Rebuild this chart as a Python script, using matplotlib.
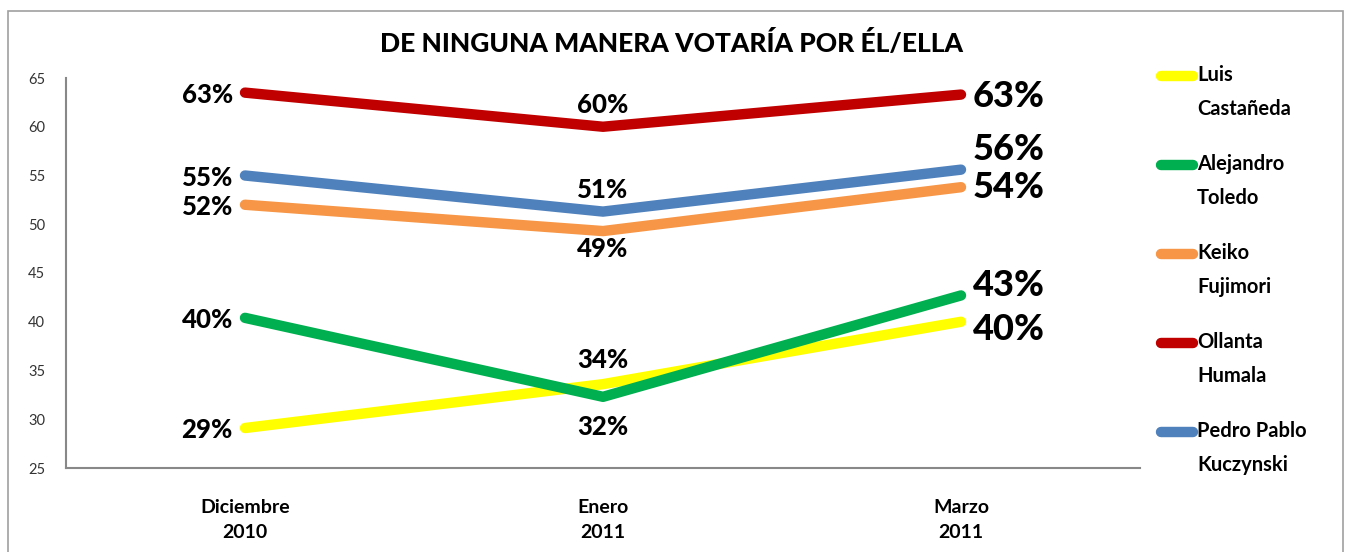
import matplotlib.pyplot as plt
from matplotlib.patches import Rectangle
from matplotlib.lines import Line2D

plt.rcParams['font.family'] = ['Lato', 'DejaVu Sans']

meses = ["Diciembre\n2010", "Enero\n2011", "Marzo\n2011"]
candidatos = ["Luis\nCastañeda", "Alejandro\nToledo", "Keiko\nFujimori",
              "Ollanta\nHumala", "Pedro Pablo\nKuczynski"]
colores = ["#FFFF00", "#00B050", "#F79646", "#C00000", "#4F81BD"]

castaneda = [29.1, 33.6, 40.0]
toledo = [40.4, 32.3, 42.7]
keiko = [52.0, 49.3, 53.8]
humala = [63.5, 60.0, 63.3]
ppk = [55.0, 51.3, 55.6]
series = [castaneda, toledo, keiko, humala, ppk]

# etiquetas mostradas (redondeadas) y desplazamiento vertical en px
etiquetas = [["29%", "34%", "40%"], ["40%", "32%", "43%"], ["52%", "49%", "54%"],
             ["63%", "60%", "63%"], ["55%", "51%", "56%"]]
desp_medio = [24, -30, -18, 22, 22]
desp_final = [-8, 10, 0, -2, 20]

fig = plt.figure(figsize=(13.5, 5.52), dpi=100)
fig.patches.append(Rectangle((8 / 1350, -0.1), 1335 / 1350, 1.1 - 11 / 552,
                             transform=fig.transFigure, fill=False,
                             edgecolor="#A0A0A0", linewidth=1.2))
ax = fig.add_axes([66 / 1350, 84 / 552, 1074 / 1350, 390 / 552])

x = range(len(meses))
for vals, col, labs, dm, df in zip(series, colores, etiquetas, desp_medio, desp_final):
    ax.plot(x, vals, color=col, linewidth=7.5, solid_capstyle="round",
            solid_joinstyle="round")
    ax.annotate(labs[0], (0, vals[0]), xytext=(-12, -2), textcoords="offset pixels",
                ha="right", va="center", fontsize=18.5, fontweight="black")
    ax.annotate(labs[1], (1, vals[1]), xytext=(0, dm), textcoords="offset pixels",
                ha="center", va="center", fontsize=18.5, fontweight="black")
    ax.annotate(labs[2], (2, vals[2]), xytext=(12, df), textcoords="offset pixels",
                ha="left", va="center", fontsize=26, fontweight="black")

ax.set_xlim(-0.5, 2.5)
ax.set_ylim(25, 65)
ax.set_yticks(range(25, 66, 5))
ax.set_xticks(list(x))
ax.set_xticklabels(meses, fontsize=14, fontweight="bold", linespacing=1.6)
ax.tick_params(axis="both", length=0)
ax.tick_params(axis="y", labelsize=10.5, labelcolor="#333333", pad=15)
ax.tick_params(axis="x", pad=22)
for s in ["top", "right"]:
    ax.spines[s].set_visible(False)
for s in ["left", "bottom"]:
    ax.spines[s].set_color("#888888")
    ax.spines[s].set_linewidth(1.5)

fig.text(672 / 1350, 1 - 43 / 552, "DE NINGUNA MANERA VOTARÍA POR ÉL/ELLA",
         ha="center", va="center", fontsize=19, fontweight="black")

# leyenda
for i, (nombre, col) in enumerate(zip(candidatos, colores)):
    y = 1 - (76 + i * 89) / 552
    fig.lines.append(Line2D([1161 / 1350, 1193 / 1350], [y, y], transform=fig.transFigure,
                            color=col, linewidth=7.5, solid_capstyle="round"))
    fig.text(1197 / 1350, y + 11 / 552, nombre, ha="left", va="top",
             fontsize=14.5, fontweight="bold", linespacing=1.85)

fig.savefig("out.png")
